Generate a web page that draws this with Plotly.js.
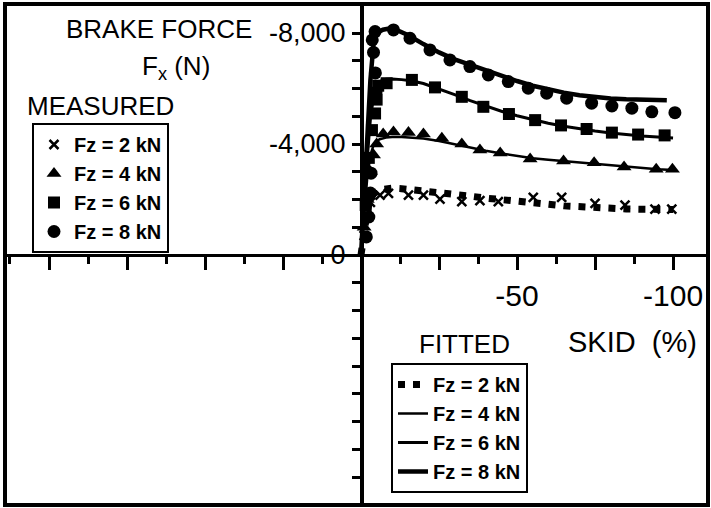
<!DOCTYPE html>
<html>
<head>
<meta charset="utf-8">
<script src="https://cdn.plot.ly/plotly-3.0.1.min.js"></script>
<style>html,body{margin:0;padding:0;background:#fff;}#chart{width:711px;height:508px;}</style>
</head>
<body>
<div id="chart"></div>
<script>
// ---------- DATA ----------
// Measured points: slip (%) and brake force Fx (N)
const m2Slip  = [-1, -2, -3, -6.1, -8.8, -15.2, -20, -25.3, -32.3, -38.1, -44, -55.2, -64.3, -75, -84.6, -94.2, -99.6];
const m2Force = [-700, -1400, -1900, -2160, -2220, -2160, -2160, -2010, -1920, -1960, -1920, -2080, -2080, -1860, -1800, -1650, -1650];

const m4Slip  = [-1, -2, -3, -4, -5, -7.1, -10.4, -15.2, -20, -25.9, -32.3, -38.1, -44.6, -54.2, -64.9, -74.7, -84.3, -94.6, -99.8];
const m4Force = [-1000, -2000, -3000, -3600, -4000, -4360, -4430, -4410, -4360, -4210, -4000, -3780, -3680, -3460, -3390, -3320, -3170, -3090, -3090];

const m6Slip  = [-1.5, -2.5, -3.5, -4.5, -5, -5.5, -8.2, -16.3, -23.7, -32.3, -39.2, -47.4, -55.8, -64.1, -72.3, -80.4, -88.8, -97.3];
const m6Force = [-1800, -3500, -4500, -5100, -5600, -6100, -6190, -6310, -6040, -5700, -5340, -5080, -4860, -4670, -4540, -4410, -4340, -4310];

const m8Slip  = [-1.7, -2.5, -3.0, -3.2, -4.8, -4.6, -4.0, -3.6, -4.5, -10.4, -15.7, -22.1, -28.5, -34.9, -40.8, -47.2, -53.6, -59.5, -65.9, -73.9, -80.4, -86.8, -93.2, -100.6];
const m8Force = [-650, -1370, -2230, -2950, -5870, -6560, -7300, -7750, -8050, -8110, -7810, -7390, -7030, -6790, -6490, -6250, -6010, -5830, -5650, -5470, -5370, -5290, -5160, -5130];

// Fitted curves
const f2Slip  = [0, -1, -2, -3, -4, -6, -8, -10, -13, -16, -20, -25, -30, -35, -40, -45, -50, -55, -60, -65, -70, -75, -80, -85, -90, -95, -100];
const f2Force = [0, -900, -1600, -2000, -2200, -2350, -2400, -2410, -2390, -2360, -2310, -2230, -2180, -2120, -2050, -1980, -1920, -1870, -1830, -1770, -1730, -1700, -1680, -1660, -1650, -1640, -1640];

const f4Slip  = [0, -1, -2, -3, -4, -5, -6, -8, -10, -13, -16, -20, -25, -30, -35, -40, -45, -50, -55, -60, -65, -70, -75, -80, -85, -90, -95, -100];
const f4Force = [0, -1500, -2800, -3600, -3950, -4100, -4170, -4230, -4250, -4250, -4240, -4200, -4110, -3990, -3870, -3760, -3660, -3570, -3490, -3430, -3380, -3330, -3280, -3230, -3180, -3130, -3090, -3060];

const f6Slip  = [0, -1, -2, -3, -4, -5, -6, -8, -10, -13, -16, -20, -25, -30, -35, -40, -45, -50, -55, -60, -65, -70, -75, -80, -85, -90, -95, -100];
const f6Force = [0, -1800, -3500, -4900, -5700, -6100, -6250, -6330, -6340, -6320, -6280, -6180, -5990, -5780, -5560, -5360, -5180, -5020, -4880, -4750, -4640, -4550, -4470, -4400, -4340, -4290, -4250, -4220];

const f8Slip  = [0, -1, -2, -3, -4, -5, -7, -9, -11, -13, -15, -20, -25, -30, -35, -40, -45, -50, -55, -60, -65, -70, -75, -80, -85, -90, -95, -98];
const f8Force = [0, -2200, -4300, -6300, -7600, -8000, -8120, -8160, -8130, -8050, -7930, -7600, -7300, -7050, -6850, -6650, -6450, -6270, -6100, -5960, -5850, -5760, -5690, -5640, -5610, -5590, -5580, -5580];

const seriesNames = ['Fz = 2 kN', 'Fz = 4 kN', 'Fz = 6 kN', 'Fz = 8 kN'];

// Axis ticks
const xTickVals = [100, 75, 50, 25, 0, -25, -50, -75, -100];
const xTickText = ['', '', '', '', '', '', '-50', '', '-100'];
const yTickVals = [-8000, -7000, -6000, -5000, -4000, -3000, -2000, -1000, 0, 1000, 2000, 3000, 4000, 5000, 6000, 7000, 8000];
const yTickText = ['-8,000', '', '', '', '-4,000', '', '', '', '0', '', '', '', '', '', '', '', ''];

// ---------- LAYOUT HELPERS ----------
const FONT = 'Liberation Sans, Arial, Helvetica, sans-serif';
const L = 5, R = 708, T = 4, B = 505;             // plot-area pixel box
const px = p => (p - L) / (R - L);
const py = p => (B - p) / (B - T);
const xRange = [114.1, -111.2];
const yRange = [9009, -9045];
const xAxisPos = (yRange[0] - 0) / (yRange[0] - yRange[1]);
const yAxisPos = (xRange[0] - 0) / (xRange[0] - xRange[1]);

const fittedStyles = [
  {width: 7, dash: '7px,8px'},
  {width: 2.5, dash: 'solid'},
  {width: 3, dash: 'solid'},
  {width: 4.5, dash: 'solid'}
];
const markerStyles = [
  {symbol: 'x-thin', size: 9, line: {width: 2.5, color: 'black'}, color: 'black'},
  {symbol: 'triangle-up', size: 13, color: 'black'},
  {symbol: 'square', size: 12, color: 'black'},
  {symbol: 'circle', size: 13, color: 'black'}
];

const fitted = [[f2Slip, f2Force], [f4Slip, f4Force], [f6Slip, f6Force], [f8Slip, f8Force]];
const measured = [[m2Slip, m2Force], [m4Slip, m4Force], [m6Slip, m6Force], [m8Slip, m8Force]];

const traces = [];
fitted.forEach((d, i) => traces.push({
  type: 'scatter', mode: 'lines', x: d[0], y: d[1], name: seriesNames[i],
  legend: 'legend2', line: Object.assign({color: 'black'}, fittedStyles[i]),
  hoverinfo: 'skip'
}));
measured.forEach((d, i) => traces.push({
  type: 'scatter', mode: 'markers', x: d[0], y: d[1], name: seriesNames[i],
  legend: 'legend', marker: markerStyles[i], cliponaxis: false, hoverinfo: 'skip'
}));

const legendCommon = {
  bgcolor: 'white', bordercolor: 'black', borderwidth: 2,
  font: {family: FONT, size: 20, color: 'black', weight: 'bold'},
  xanchor: 'left', yanchor: 'top', traceorder: 'normal', itemwidth: 30
};

const annText = (text, x, y, size, xanchor) => ({
  text: text, xref: 'paper', yref: 'paper', x: px(x), y: py(y),
  xanchor: xanchor || 'center', yanchor: 'middle', showarrow: false,
  font: {family: FONT, size: size, color: 'black'}
});

const layout = {
  width: 711, height: 508,
  margin: {l: L, r: 711 - R, t: T, b: 508 - B, pad: 0},
  paper_bgcolor: 'white', plot_bgcolor: 'white',
  showlegend: true,
  legend: Object.assign({x: px(32), y: py(123)}, legendCommon),
  legend2: Object.assign({x: px(391), y: py(363)}, legendCommon),
  xaxis: {
    range: xRange, anchor: 'free', position: xAxisPos,
    showgrid: false, zeroline: false, showline: true, linecolor: 'black', linewidth: 3,
    tickmode: 'array', tickvals: xTickVals, ticktext: xTickText,
    ticks: 'outside', ticklen: 13, tickwidth: 3, tickcolor: 'black',
    minor: {tickmode: 'linear', tick0: 0, dtick: 12.5, ticks: 'outside', ticklen: 7, tickwidth: 3, tickcolor: 'black', showgrid: false},
    tickfont: {family: FONT, size: 30, color: 'black'},
    ticklabelstandoff: 0, fixedrange: true
  },
  yaxis: {
    range: yRange, anchor: 'free', position: yAxisPos,
    showgrid: false, zeroline: false, showline: true, linecolor: 'black', linewidth: 3.5,
    tickmode: 'array', tickvals: yTickVals, ticktext: yTickText,
    ticks: 'outside', ticklen: 8, tickwidth: 3, tickcolor: 'black',
    tickfont: {family: FONT, size: 27, color: 'black'},
    ticklabelstandoff: 1, fixedrange: true
  },
  shapes: [{
    type: 'rect', xref: 'paper', yref: 'paper', x0: 0, x1: 1, y0: 0, y1: 1,
    line: {color: 'black', width: 4}, layer: 'above'
  }],
  annotations: [
    annText('BRAKE FORCE', 254, 29, 26, 'right'),
    annText('F<sub>x</sub> (N)', 176, 67, 26),
    annText('MEASURED', 100, 106, 26),
    annText('FITTED', 465, 344, 26),
    annText('SKID&nbsp;&nbsp;(%)', 632, 342, 29)
  ]
};

Plotly.newPlot('chart', traces, layout, {staticPlot: true, displayModeBar: false});
</script>
</body>
</html>
